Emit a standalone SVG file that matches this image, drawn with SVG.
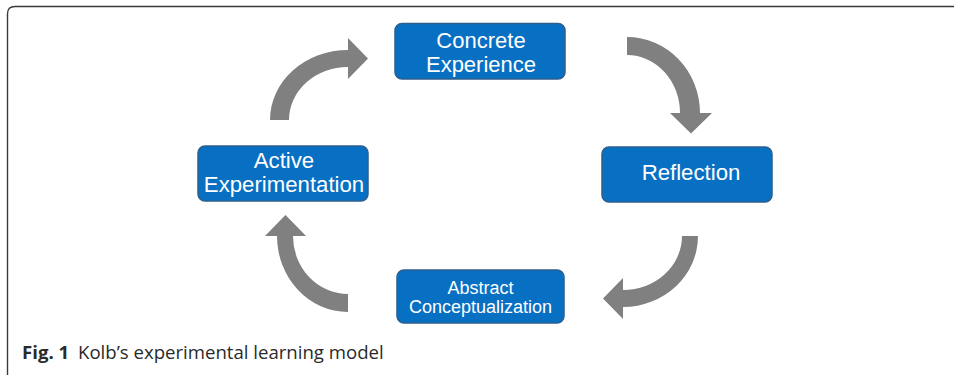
<svg xmlns="http://www.w3.org/2000/svg" width="954" height="375" viewBox="0 0 954 375">
<style>
.box{fill:#0870c3;stroke:#2b5f8e;stroke-width:1.5}
.lbl{font-family:"Liberation Sans",Arial,sans-serif;fill:#ffffff;text-anchor:middle}
.arr{fill:#808080}
.cap{font-family:"Open Sans","Noto Sans",sans-serif;fill:#2a2a2a;font-size:18.6px}
</style>
<rect width="954" height="375" fill="#ffffff"/>
<path d="M7.5,375 V14 Q7.5,6.5 15,6.5 H954" fill="none" stroke="#3a3a3a" stroke-width="1.4"/>
<g id="connectors">
<path class="arr" d="M270,120 A78,70 0 0 1 348,50 L348,38 L368,58.5 L348,79 L348,67 A59,53 0 0 0 289,120 Z"/>
<path class="arr" d="M627,37 A73,76 0 0 1 700,113 L712,113 L691,133.5 L670,113 L680,113 A53,58 0 0 0 627,55 Z"/>
<path class="arr" d="M698,236 A75,71 0 0 1 623,307 L623,319 L603,298.5 L623,278 L623,290 A59,54 0 0 0 682,236 Z"/>
<path class="arr" d="M348,312 A71,76 0 0 1 277,236 L265,236 L285.5,215 L306,236 L293,236 A55,58 0 0 0 348,294 Z"/>
</g>
<g id="concrete-experience">
<rect class="box" x="395" y="23.5" width="170" height="55.5" rx="7"/>
<text class="lbl" x="481" y="48" font-size="22">Concrete</text>
<text class="lbl" x="481" y="72" font-size="22">Experience</text>
</g>
<g id="reflection">
<rect class="box" x="602" y="147" width="170" height="55" rx="7"/>
<text class="lbl" x="691" y="179.5" font-size="22.2">Reflection</text>
</g>
<g id="abstract-conceptualization">
<rect class="box" x="397" y="270" width="167" height="53" rx="7"/>
<text class="lbl" x="480.5" y="294" font-size="18">Abstract</text>
<text class="lbl" x="480.5" y="313" font-size="18">Conceptualization</text>
</g>
<g id="active-experimentation">
<rect class="box" x="198" y="146" width="170" height="55" rx="7"/>
<text class="lbl" x="284" y="168" font-size="22.2">Active</text>
<text class="lbl" x="284" y="192" font-size="22.2">Experimentation</text>
</g>
<g id="caption">
<text class="cap" x="22" y="359"><tspan font-weight="bold">Fig. 1</tspan><tspan x="78">Kolb’s experimental learning model</tspan></text>
</g>
</svg>
